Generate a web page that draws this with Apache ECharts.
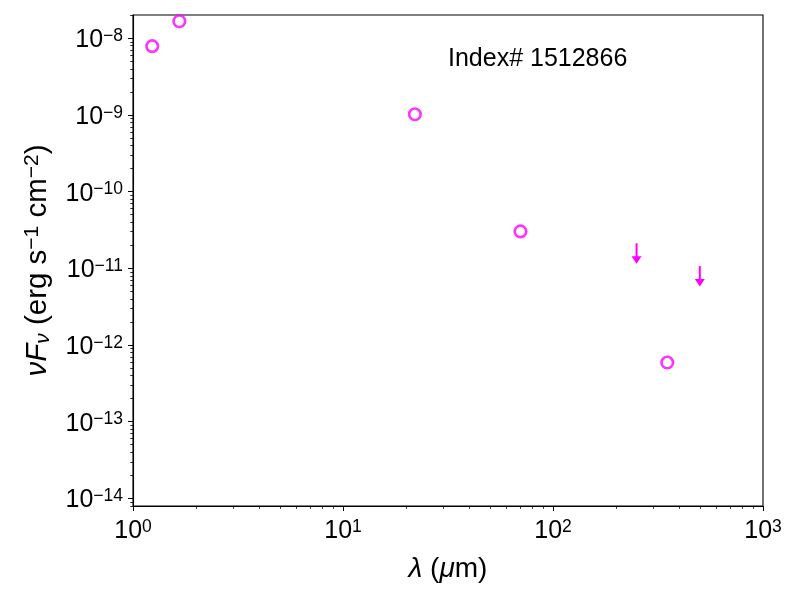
<!DOCTYPE html>
<html>
<head>
<meta charset="utf-8">
<script src="https://cdn.jsdelivr.net/npm/echarts@6/dist/echarts.min.js"></script>
<style>
html, body { margin: 0; padding: 0; background: #fff; }
#chart { width: 800px; height: 600px; }
</style>
</head>
<body>
<div id="chart"></div>
<script>
// detections: wavelength (micron) and nuFnu (erg s^-1 cm^-2)
var detWave = [1.235, 1.662, 22.0, 70.0, 350.0];
var detFlux = [7.9e-9, 1.67e-8, 1.02e-9, 3.03e-11, 5.9e-13];
// upper limits (arrow starts here and points down)
var limWave = [250.0, 500.0];
var limFlux = [2.12e-11, 1.07e-11];

// major tick values
var xMajor = [1, 10, 100, 1000];
var yMajor = [1e-14, 1e-13, 1e-12, 1e-11, 1e-10, 1e-9, 1e-8];
var sourceLabel = 'Index# 1512866';

var xRange = [1, 1000];
var yRange = [Math.pow(10, -14.10), Math.pow(10, -7.696)];

var FONT = '"Liberation Sans", Arial, Helvetica, sans-serif';
var MAG = '#ff00ff';

// log minor ticks 2..9 inside each decade
function minorTicks(majors, lo, hi){
	var out = [];
	for(var i = 0; i < majors.length + 1; i++){
		var base = i == 0 ? majors[0] / 10 : majors[i - 1];
		for(var k = 2; k < 10; k++){
			var v = base * k;
			if(v >= lo && v <= hi) out.push(v);
		}
	}
	return out;
}

function powLabel(v){
	var e = Math.round(Math.log(v) / Math.LN10);
	var s = e < 0 ? '\u2212' + (-e) : '' + e;
	return '{b|10}{s|' + s + '}';
}

var labelRich = {
	b: { fontSize: 25, fontFamily: FONT, color: '#000', lineHeight: 26 },
	s: { fontSize: 17.5, fontFamily: FONT, color: '#000', lineHeight: 14, verticalAlign: 'top' }
};

var tickStyle = { color: '#000', width: 1 };

var myChart = echarts.init(document.getElementById('chart'), null, { renderer: 'canvas' });

var detData = [];
for(var i = 0; i < detWave.length; i++) detData.push([detWave[i], detFlux[i]]);
var limData = [];
for(var j = 0; j < limWave.length; j++) limData.push([limWave[j], limFlux[j]]);

var option = {
	animation: false,
	backgroundColor: '#fff',
	grid: {
		left: 133, right: 37, top: 15, bottom: 94,
		containLabel: false,
		outerBoundsMode: 'none',
		show: true,
		borderColor: '#000',
		borderWidth: 1.1,
		backgroundColor: 'transparent'
	},
	xAxis: [{
		type: 'log', logBase: 10,
		min: xRange[0], max: xRange[1],
		position: 'bottom',
		axisLine: { show: true, onZero: false, lineStyle: { color: '#000', width: 1.1 } },
		axisTick: { show: true, inside: false, length: 5, lineStyle: tickStyle, customValues: xMajor },
		axisLabel: {
			show: true, margin: 12, customValues: xMajor,
			formatter: powLabel, rich: labelRich
		},
		splitLine: { show: false },
		name: '{i|\u03bb}{r| (}{i|\u03bc}{r|m)}',
		nameLocation: 'middle',
		nameGap: 49,
		nameTextStyle: {
			rich: {
				i: { fontSize: 28, fontFamily: FONT, fontStyle: 'italic', color: '#000' },
				r: { fontSize: 28, fontFamily: FONT, color: '#000' }
			}
		}
	}, {
		type: 'log', logBase: 10,
		min: xRange[0], max: xRange[1],
		position: 'bottom',
		axisLine: { show: false },
		axisTick: { show: true, inside: false, length: 2.8, lineStyle: { color: '#000', width: 0.8 },
			customValues: minorTicks(xMajor, xRange[0], xRange[1]) },
		axisLabel: { show: false },
		splitLine: { show: false }
	}],
	yAxis: [{
		type: 'log', logBase: 10,
		min: yRange[0], max: yRange[1],
		position: 'left',
		axisLine: { show: true, onZero: false, lineStyle: { color: '#000', width: 1.1 } },
		axisTick: { show: true, inside: false, length: 5, lineStyle: tickStyle, customValues: yMajor },
		axisLabel: {
			show: true, margin: 10, customValues: yMajor,
			padding: [4, 0, 0, 0],
			formatter: powLabel, rich: labelRich
		},
		splitLine: { show: false },
		name: '{i|\u03bdF}{sub|\u03bd} (erg s{sup|\u22121} cm{sup|\u22122})',
		nameLocation: 'middle',
		nameRotate: 90,
		nameGap: 79,
		nameTextStyle: {
			fontSize: 29.5, fontFamily: FONT, color: '#000',
			rich: {
				i: { fontSize: 29.5, fontFamily: FONT, fontStyle: 'italic', color: '#000', lineHeight: 32 },
				sub: { fontSize: 21, fontFamily: FONT, fontStyle: 'italic', color: '#000', lineHeight: 20, verticalAlign: 'bottom' },
				sup: { fontSize: 21, fontFamily: FONT, color: '#000', lineHeight: 14, verticalAlign: 'top' }
			}
		}
	}, {
		type: 'log', logBase: 10,
		min: yRange[0], max: yRange[1],
		position: 'left',
		axisLine: { show: false },
		axisTick: { show: true, inside: false, length: 2.8, lineStyle: { color: '#000', width: 0.8 },
			customValues: minorTicks(yMajor, yRange[0], yRange[1]) },
		axisLabel: { show: false },
		splitLine: { show: false }
	}],
	graphic: [{
		type: 'text',
		left: 448, top: 47,
		style: { text: sourceLabel, fontSize: 25, fontFamily: FONT, fill: '#000' }
	}],
	series: [{
		name: 'detections',
		type: 'scatter',
		xAxisIndex: 0, yAxisIndex: 0,
		data: detData,
		symbol: 'circle',
		symbolSize: 11.5,
		itemStyle: { color: '#fff', borderColor: MAG, borderWidth: 2.6 },
		z: 5
	}, {
		name: 'upper limits',
		type: 'custom',
		xAxisIndex: 0, yAxisIndex: 0,
		data: limData,
		renderItem: function(params, api){
			var p = api.coord([api.value(0), api.value(1)]);
			var x = p[0], y = p[1];
			return {
				type: 'group',
				children: [{
					type: 'line',
					shape: { x1: x, y1: y, x2: x, y2: y + 14 },
					style: { stroke: MAG, lineWidth: 2 }
				}, {
					type: 'polygon',
					shape: { points: [[x - 5, y + 13], [x + 5, y + 13], [x, y + 20.5]] },
					style: { fill: MAG }
				}]
			};
		},
		z: 5
	}]
};

myChart.setOption(option);
</script>
</body>
</html>
